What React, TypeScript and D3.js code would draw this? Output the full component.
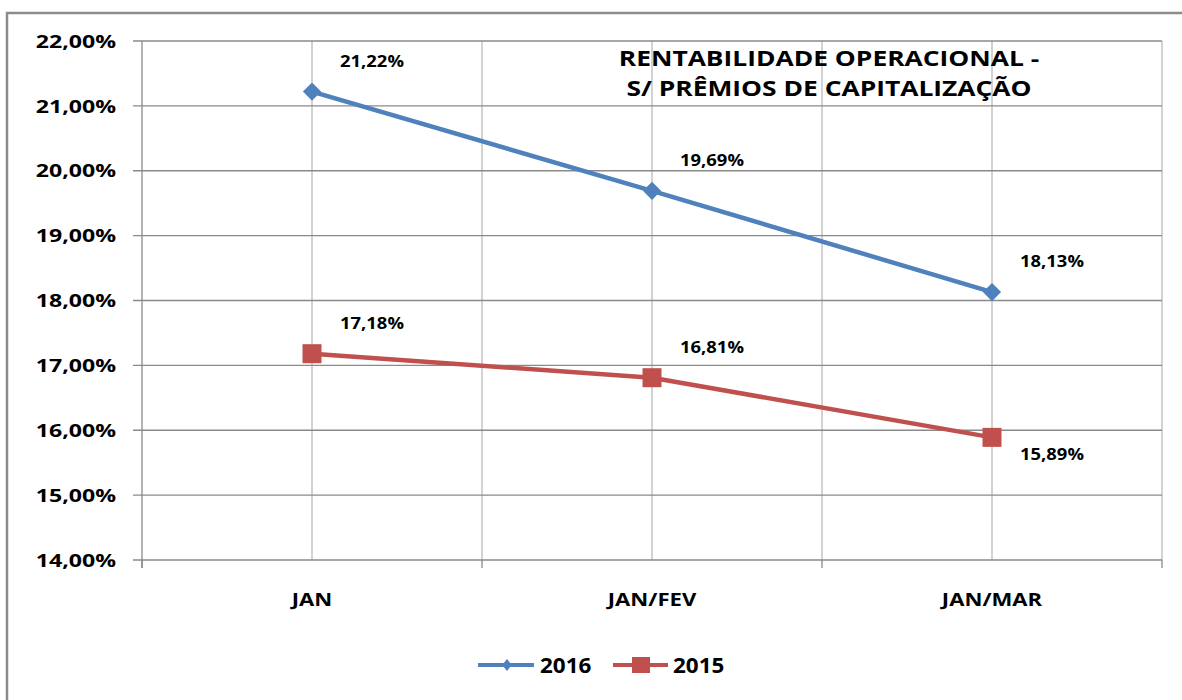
import React from "react";
import * as d3 from "d3";

const categories = ["JAN", "JAN/FEV", "JAN/MAR"];
const series2016 = [21.22, 19.69, 18.13];
const series2015 = [17.18, 16.81, 15.89];
const seriesNames = ["2016", "2015"];
const yTicks = [14, 15, 16, 17, 18, 19, 20, 21, 22];
const labelSides2016 = ["above", "above", "above"];
const labelSides2015 = ["above", "above", "below"];
const titleLines = ["RENTABILIDADE OPERACIONAL -", "S/ PRÊMIOS DE CAPITALIZAÇÃO"];

const W = 1182;
const H = 700;
const FONT = "'Open Sans', 'DejaVu Sans', sans-serif";
const BLUE = "#4F81BD";
const RED = "#C0504D";
const GRID = "#8a8a8a";
const VGRID = "#b4b4b4";

const fmt = (v: number) => v.toFixed(2).replace(".", ",") + "%";

function SText(props: { x: number; y: number; sx: number; size: number; anchor?: string; children: any; fill?: string }) {
  const { x, y, sx, size, anchor = "middle", children, fill = "#000" } = props;
  return (
    <text
      transform={`translate(${x},${y}) scale(${sx},1)`}
      textAnchor={anchor}
      dominantBaseline="central"
      fontFamily={FONT}
      fontWeight={700}
      fontSize={size}
      fill={fill}
    >
      {children}
    </text>
  );
}

export default function App() {
  const left = 142;
  const right = 1162;
  const top = 41;
  const bottom = 560;

  const x = d3.scaleBand<string>().domain(categories).range([left, right]).paddingInner(0).paddingOuter(0);
  const y = d3.scaleLinear().domain([14, 22]).range([bottom, top]);
  const cx = (c: string) => (x(c) as number) + x.bandwidth() / 2;

  const line = d3
    .line<number>()
    .x((_, i) => cx(categories[i]))
    .y((d) => y(d));

  const boundaries = categories.map((c) => x(c) as number).concat([right]);
  const centers = categories.map(cx);

  const diamond = d3.symbol().type(d3.symbolSquare).size(165)() as string;
  const legendDiamond = d3.symbol().type(d3.symbolSquare).size(70)() as string;

  const labelPos = (v: number, i: number, side: string) => ({
    x: cx(categories[i]) + 60,
    y: y(v) + (side === "above" ? -31 : 17),
  });

  return (
    <svg width={W} height={H} style={{ position: "absolute", left: 0, top: 0, background: "#fff" }}>
      <rect x={0} y={0} width={W} height={H} fill="#fff" />
      <rect x={7} y={13} width={W + 20} height={H + 20} fill="none" stroke="#8c8c8c" strokeWidth={2.5} />

      {/* vertical gridlines */}
      {centers.concat(boundaries.slice(1)).map((gx, i) => (
        <line key={"v" + i} x1={gx} x2={gx} y1={top} y2={bottom} stroke={VGRID} strokeWidth={1.2} />
      ))}
      {/* horizontal gridlines */}
      {yTicks.map((t) => (
        <line key={"h" + t} x1={left - 9} x2={right} y1={y(t)} y2={y(t)} stroke={GRID} strokeWidth={1.3} />
      ))}
      {/* y axis */}
      <line x1={left} x2={left} y1={top} y2={bottom + 8} stroke={GRID} strokeWidth={1.3} />
      {/* x ticks */}
      {boundaries.map((bx, i) => (
        <line key={"xt" + i} x1={bx} x2={bx} y1={bottom} y2={bottom + 8} stroke={GRID} strokeWidth={1.3} />
      ))}

      {/* y labels */}
      {yTicks.map((t) => (
        <SText key={"yl" + t} x={116} y={y(t)} sx={1.36} size={17} anchor="end">
          {fmt(t)}
        </SText>
      ))}

      {/* x labels */}
      {categories.map((c) => (
        <SText key={"xl" + c} x={cx(c)} y={600} sx={1.3} size={17}>
          {c}
        </SText>
      ))}

      {/* title */}
      {titleLines.map((t, i) => (
        <SText key={"t" + i} x={829} y={57 + i * 30} sx={1.2} size={22}>
          {t}
        </SText>
      ))}

      {/* series lines */}
      <path d={line(series2015) as string} fill="none" stroke={RED} strokeWidth={4.5} strokeLinejoin="round" />
      <path d={line(series2016) as string} fill="none" stroke={BLUE} strokeWidth={4.5} strokeLinejoin="round" />

      {series2016.map((v, i) => (
        <path key={"m16" + i} d={diamond} transform={`translate(${cx(categories[i])},${y(v)}) rotate(45)`} fill={BLUE} />
      ))}
      {series2015.map((v, i) => (
        <rect key={"m15" + i} x={cx(categories[i]) - 9.5} y={y(v) - 9.5} width={19} height={19} fill={RED} />
      ))}

      {/* data labels */}
      {series2016.map((v, i) => {
        const p = labelPos(v, i, labelSides2016[i]);
        return (
          <SText key={"dl16" + i} x={p.x} y={p.y} sx={1.15} size={16}>
            {fmt(v)}
          </SText>
        );
      })}
      {series2015.map((v, i) => {
        const p = labelPos(v, i, labelSides2015[i]);
        return (
          <SText key={"dl15" + i} x={p.x} y={p.y} sx={1.15} size={16}>
            {fmt(v)}
          </SText>
        );
      })}

      {/* legend */}
      <g>
        <line x1={478} x2={534} y1={665} y2={665} stroke={BLUE} strokeWidth={4} />
        <path d={legendDiamond} transform={`translate(507,665) scale(0.8,1) rotate(45)`} fill={BLUE} />
        <SText x={540} y={665} sx={1.07} size={21} anchor="start">
          {seriesNames[0]}
        </SText>
        <line x1={613} x2={668} y1={665} y2={665} stroke={RED} strokeWidth={4} />
        <rect x={632} y={657} width={18} height={16} fill={RED} />
        <SText x={673} y={665} sx={1.07} size={21} anchor="start">
          {seriesNames[1]}
        </SText>
      </g>
    </svg>
  );
}
